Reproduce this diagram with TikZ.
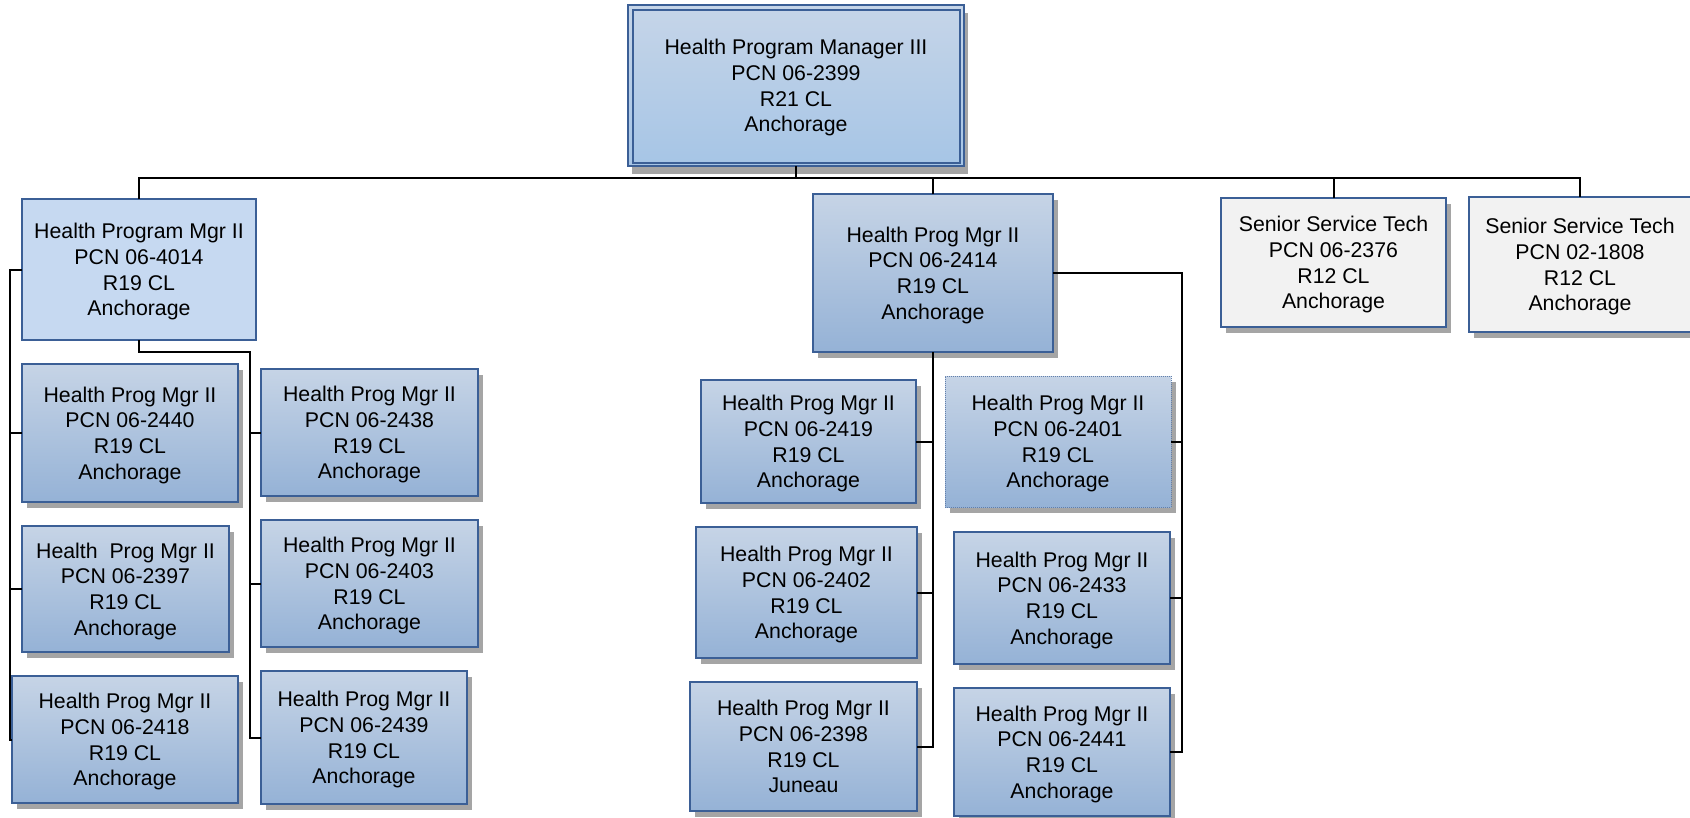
\documentclass[tikz,border=0pt]{standalone}
\usepackage{fontspec}
\setmainfont{Liberation Sans}
\usetikzlibrary{shadows}
\definecolor{gTop}{HTML}{C6D4E6}
\definecolor{gBot}{HTML}{95B2D6}
\definecolor{bord}{HTML}{3B5F96}
\definecolor{shadcol}{HTML}{A5A5A5}
\definecolor{lightfill}{HTML}{C6D9F1}
\definecolor{grayfill}{HTML}{F2F2F2}
\definecolor{tTop}{HTML}{C6D5E8}
\definecolor{tBot}{HTML}{A6C5E6}
\begin{document}
\begin{tikzpicture}[x=1pt,y=-1pt,
  base/.style={rectangle, inner sep=0pt, outer sep=0pt, align=center, text depth=0pt,
    font=\fontsize{21.3}{25.8}\selectfont, text=black},
  dshadow/.style={drop shadow={shadow xshift=5pt, shadow yshift=-6pt, fill=shadcol, opacity=1}},
  gbox/.style={base, dshadow, draw=bord, line width=1.2pt, top color=gTop, bottom color=gBot},
  dotbox/.style={base, dshadow, draw=bord!80, line width=1pt, densely dotted, top color=gTop, bottom color=gBot},
  topbox/.style={base, drop shadow={shadow xshift=4pt, shadow yshift=-8pt, fill=shadcol, opacity=1},
    draw=bord, line width=1.2pt, top color=tTop, bottom color=tBot},
  lbox/.style={base, draw=bord, line width=2pt, fill=lightfill},
  sbox/.style={base, dshadow, draw=bord, line width=1.2pt, fill=grayfill},
  conn/.style={draw=black, line width=2pt}
]
\useasboundingbox (0,0) rectangle (1690,817);

% top
\node[topbox, minimum width=336pt, minimum height=161pt] (top) at (796,85.5)
  {Health Program Manager III\\PCN 06-2399\\R21 CL\\Anchorage};
\draw[draw=bord, line width=1.2pt] ([xshift=5pt,yshift=-5pt]top.north west) rectangle ([xshift=-4pt,yshift=3pt]top.south east);

% second level
\node[lbox, minimum width=234pt, minimum height=141pt] (pm4014) at (139,269.5)
  {Health Program Mgr II\\PCN 06-4014\\R19 CL\\Anchorage};
\node[gbox, minimum width=240pt, minimum height=158pt] (pm2414) at (933,273)
  {Health Prog Mgr II\\PCN 06-2414\\R19 CL\\Anchorage};
\node[sbox, minimum width=225pt, minimum height=129pt] (sen2376) at (1333.5,262.5)
  {Senior Service Tech\\PCN 06-2376\\R12 CL\\Anchorage};
\node[sbox, minimum width=222pt, minimum height=135pt] (sen1808) at (1580,264.5)
  {Senior Service Tech\\PCN 02-1808\\R12 CL\\Anchorage};

% left group
\node[gbox, minimum width=216pt, minimum height=138pt] (c2440) at (130,433)
  {Health Prog Mgr II\\PCN 06-2440\\R19 CL\\Anchorage};
\node[gbox, minimum width=207pt, minimum height=126pt] (c2397) at (125.5,589)
  {Health\ \ Prog Mgr II\\PCN 06-2397\\R19 CL\\Anchorage};
\node[gbox, minimum width=226pt, minimum height=127pt] (c2418) at (125,739.5)
  {Health Prog Mgr II\\PCN 06-2418\\R19 CL\\Anchorage};
\node[gbox, minimum width=217pt, minimum height=127pt] (c2438) at (369.5,432.5)
  {Health Prog Mgr II\\PCN 06-2438\\R19 CL\\Anchorage};
\node[gbox, minimum width=217pt, minimum height=127pt] (c2403) at (369.5,583.5)
  {Health Prog Mgr II\\PCN 06-2403\\R19 CL\\Anchorage};
\node[gbox, minimum width=206pt, minimum height=133pt] (c2439) at (364,737.5)
  {Health Prog Mgr II\\PCN 06-2439\\R19 CL\\Anchorage};

% middle group
\node[gbox, minimum width=215pt, minimum height=123pt] (c2419) at (808.5,441.5)
  {Health Prog Mgr II\\PCN 06-2419\\R19 CL\\Anchorage};
\node[gbox, minimum width=221pt, minimum height=131pt] (c2402) at (806.5,592.5)
  {Health Prog Mgr II\\PCN 06-2402\\R19 CL\\Anchorage};
\node[gbox, minimum width=227pt, minimum height=129pt] (c2398) at (803.5,746.5)
  {Health Prog Mgr II\\PCN 06-2398\\R19 CL\\Juneau};
\node[dotbox, minimum width=226pt, minimum height=131pt] (c2401) at (1058,441.5)
  {Health Prog Mgr II\\PCN 06-2401\\R19 CL\\Anchorage};
\node[gbox, minimum width=216pt, minimum height=132pt] (c2433) at (1062,598)
  {Health Prog Mgr II\\PCN 06-2433\\R19 CL\\Anchorage};
\node[gbox, minimum width=216pt, minimum height=128pt] (c2441) at (1062,752)
  {Health Prog Mgr II\\PCN 06-2441\\R19 CL\\Anchorage};

% main bus
\coordinate (bus) at (796,178);
\draw[conn] (top.south) -- (top.south |- bus);
\draw[conn] (pm4014.north) -- (pm4014.north |- bus) -- (sen1808.north |- bus) -- (sen1808.north);
\draw[conn] (pm2414.north) -- (pm2414.north |- bus);
\draw[conn] (sen2376.north) -- (sen2376.north |- bus);

% left bus of pm4014
\coordinate (Lx) at (10,0);
\draw[conn] (pm4014.west) -- (Lx |- pm4014.west) -- (Lx |- c2418.west) -- (c2418.west);
\draw[conn] (Lx |- c2440.west) -- (c2440.west);
\draw[conn] (Lx |- c2397.west) -- (c2397.west);

% right bus of pm4014
\coordinate (Rj) at (250,352);
\draw[conn] (pm4014.south) -- (pm4014.south |- Rj) -- (Rj) -- (Rj |- c2439.west) -- (c2439.west);
\draw[conn] (Rj |- c2438.west) -- (c2438.west);
\draw[conn] (Rj |- c2403.west) -- (c2403.west);

% pm2414 buses
\coordinate (Ex) at (1182,0);
\draw[conn] (pm2414.east) -- (Ex |- pm2414.east) -- (Ex |- c2441.east) -- (c2441.east);
\draw[conn] (Ex |- c2401.east) -- (c2401.east);
\draw[conn] (Ex |- c2433.east) -- (c2433.east);
\draw[conn] (pm2414.south) -- (pm2414.south |- c2398.east) -- (c2398.east);
\draw[conn] (pm2414.south |- c2419.east) -- (c2419.east);
\draw[conn] (pm2414.south |- c2402.east) -- (c2402.east);
\end{tikzpicture}
\end{document}
